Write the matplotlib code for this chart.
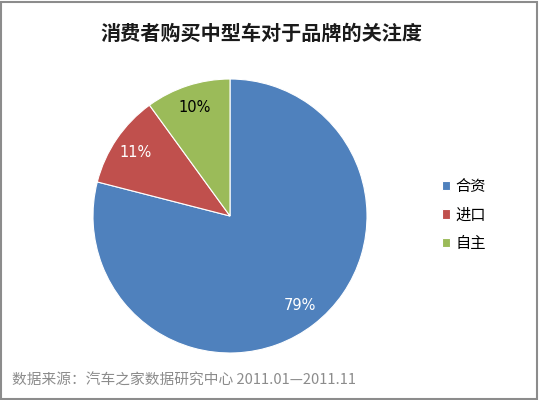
import matplotlib
matplotlib.use("Agg")
import matplotlib.pyplot as plt
from matplotlib.patches import Rectangle

plt.rcParams['font.family'] = ['Noto Sans CJK SC', 'DejaVu Sans']

title = "消费者购买中型车对于品牌的关注度"
categories = ["合资", "进口", "自主"]
values = [79, 11, 10]
colors = ["#4F81BD", "#C0504D", "#9BBB59"]
label_colors = ["white", "white", "black"]
source = "数据来源：汽车之家数据研究中心 2011.01—2011.11"

W, H = 539, 400
fig = plt.figure(figsize=(W / 100, H / 100), dpi=100)
fig.patch.set_facecolor("white")

# border
fig.add_artist(Rectangle((1 / W, 1 / H), 1 - 3 / W, 1 - 3 / H, transform=fig.transFigure,
                         fill=False, edgecolor="#8c8c8c", linewidth=1.5))

cx, cy, r = 230, 216, 137
ax = fig.add_axes([(cx - r) / W, (H - cy - r) / H, 2 * r / W, 2 * r / H])
wedges, texts = ax.pie(values, colors=colors, startangle=90, counterclock=False,
                       labels=[f"{v}%" for v in values], labeldistance=0.83,
                       wedgeprops=dict(linewidth=0.8, edgecolor="white"),
                       textprops=dict(fontsize=10.5, family=['DejaVu Sans']))
for t, c in zip(texts, label_colors):
    t.set_color(c)
    t.set_ha("center")
    t.set_va("center")
ax.set_xlim(-1, 1)
ax.set_ylim(-1, 1)
ax.set_aspect("equal")

fig.text(261 / W, 1 - 33 / H, title, ha="center", va="center", fontsize=14.5,
         fontweight="bold", color="#1a1a1a")

leg = fig.legend(wedges, categories, loc="center left", bbox_to_anchor=(428 / W, 1 - 215 / H),
                 frameon=False, fontsize=11, handlelength=0.55, handleheight=0.55,
                 handletextpad=0.35, labelspacing=0.75)

fig.text(12 / W, 1 - 381 / H, source, ha="left", va="center", fontsize=10.6, color="#8c8c8c")

fig.savefig("out.png", dpi=100)
